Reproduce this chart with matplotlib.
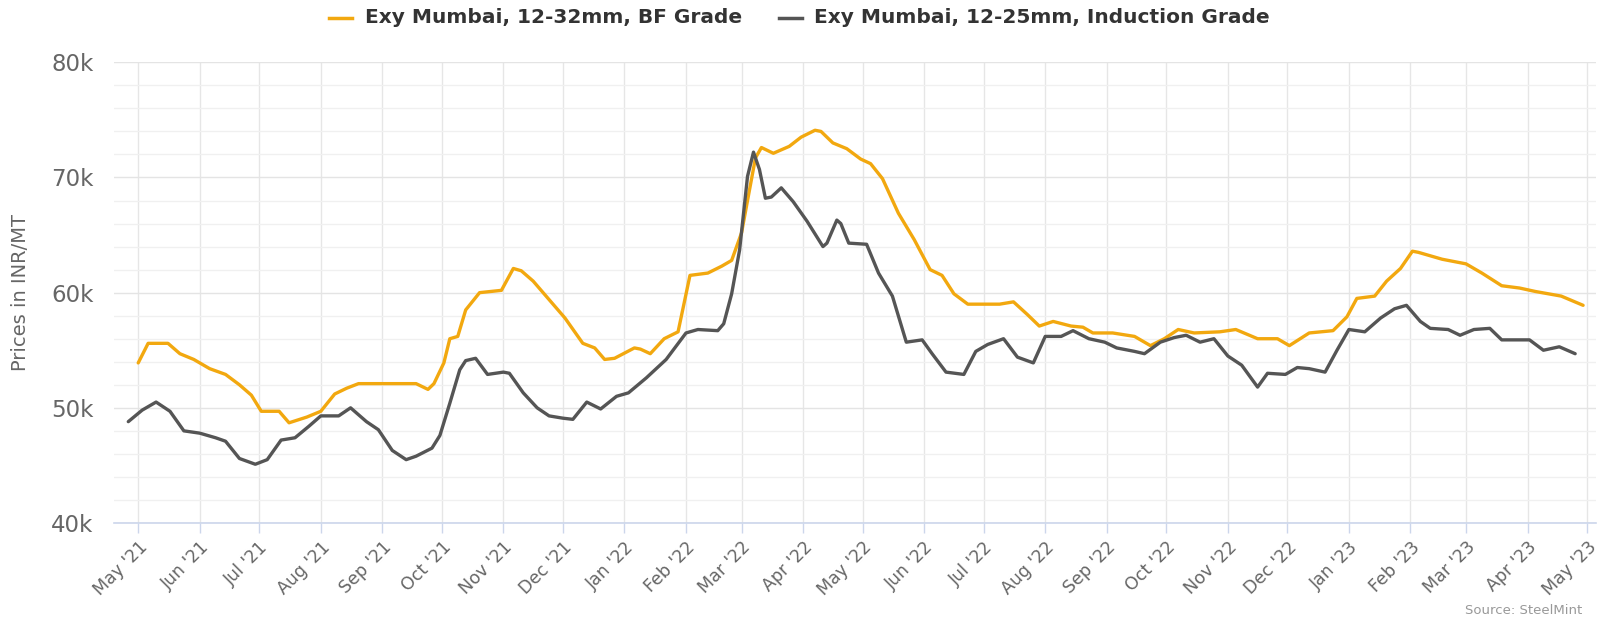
import numpy as np
import pandas as pd
import matplotlib
matplotlib.use("Agg")
import matplotlib.pyplot as plt
import matplotlib.dates as mdates
from matplotlib.lines import Line2D
from matplotlib.ticker import MultipleLocator, FuncFormatter

# ---- data (INR/MT) ----
bf_dates = [
    "2021-05-01", "2021-05-06", "2021-05-16", "2021-05-22", "2021-05-29", "2021-06-06",
    "2021-06-14", "2021-06-21", "2021-06-27", "2021-07-02", "2021-07-11", "2021-07-16",
    "2021-07-25", "2021-08-01", "2021-08-08", "2021-08-14", "2021-08-20", "2021-09-18",
    "2021-09-24", "2021-09-27", "2021-10-02", "2021-10-05", "2021-10-09", "2021-10-13",
    "2021-10-20", "2021-10-31", "2021-11-06", "2021-11-10", "2021-11-16", "2021-11-24",
    "2021-12-02", "2021-12-11", "2021-12-17", "2021-12-22", "2021-12-27", "2022-01-06",
    "2022-01-09", "2022-01-14", "2022-01-21", "2022-01-28", "2022-02-03", "2022-02-12",
    "2022-02-19", "2022-02-24", "2022-03-01", "2022-03-04", "2022-03-08", "2022-03-11",
    "2022-03-17", "2022-03-25", "2022-03-31", "2022-04-07", "2022-04-10", "2022-04-16",
    "2022-04-23", "2022-04-30", "2022-05-05", "2022-05-11", "2022-05-19", "2022-05-27",
    "2022-06-04", "2022-06-10", "2022-06-16", "2022-06-23", "2022-07-09", "2022-07-16",
    "2022-07-23", "2022-07-29", "2022-08-05", "2022-08-14", "2022-08-20", "2022-08-25",
    "2022-09-04", "2022-09-15", "2022-09-23", "2022-09-30", "2022-10-07", "2022-10-15",
    "2022-10-28", "2022-11-05", "2022-11-16", "2022-11-26", "2022-12-02", "2022-12-12",
    "2022-12-24", "2022-12-31", "2023-01-05", "2023-01-14", "2023-01-20", "2023-01-27",
    "2023-02-02", "2023-02-05", "2023-02-17", "2023-03-01", "2023-03-09", "2023-03-19",
    "2023-03-28", "2023-04-05", "2023-04-18", "2023-04-29",
]
bf_values = [
    53900, 55600, 55600, 54700, 54200, 53400,
    52900, 52000, 51100, 49700, 49700, 48700,
    49200, 49700, 51200, 51700, 52100, 52100,
    51600, 52100, 53900, 56000, 56200, 58500,
    60000, 60200, 62100, 61900, 61000, 59400,
    57800, 55600, 55200, 54200, 54300, 55200,
    55100, 54700, 56000, 56600, 61500, 61700,
    62300, 62800, 65200, 68000, 71700, 72600,
    72100, 72700, 73500, 74100, 74000, 73000,
    72500, 71600, 71200, 69900, 66900, 64600,
    62000, 61500, 59900, 59000, 59000, 59200,
    58100, 57100, 57500, 57100, 57000, 56500,
    56500, 56200, 55400, 56000, 56800, 56500,
    56600, 56800, 56000, 56000, 55400, 56500,
    56700, 57900, 59500, 59700, 61000, 62100,
    63600, 63500, 62900, 62500, 61700, 60600,
    60400, 60100, 59700, 58900,
]

ind_dates = [
    "2021-04-26", "2021-05-03", "2021-05-10", "2021-05-17", "2021-05-24", "2021-06-01",
    "2021-06-09", "2021-06-14", "2021-06-21", "2021-06-29", "2021-07-05", "2021-07-12",
    "2021-07-19", "2021-07-26", "2021-08-01", "2021-08-10", "2021-08-16", "2021-08-24",
    "2021-08-30", "2021-09-06", "2021-09-13", "2021-09-18", "2021-09-26", "2021-09-30",
    "2021-10-05", "2021-10-10", "2021-10-13", "2021-10-18", "2021-10-24", "2021-11-01",
    "2021-11-04", "2021-11-11", "2021-11-18", "2021-11-24", "2021-12-01", "2021-12-06",
    "2021-12-13", "2021-12-20", "2021-12-28", "2022-01-03", "2022-01-12", "2022-01-22",
    "2022-02-01", "2022-02-07", "2022-02-17", "2022-02-20", "2022-02-24", "2022-02-28",
    "2022-03-04", "2022-03-07", "2022-03-10", "2022-03-13", "2022-03-16", "2022-03-21",
    "2022-03-27", "2022-04-03", "2022-04-11", "2022-04-13", "2022-04-18", "2022-04-20",
    "2022-04-24", "2022-05-03", "2022-05-09", "2022-05-16", "2022-05-23", "2022-05-31",
    "2022-06-05", "2022-06-12", "2022-06-21", "2022-06-27", "2022-07-03", "2022-07-11",
    "2022-07-18", "2022-07-26", "2022-08-01", "2022-08-09", "2022-08-15", "2022-08-23",
    "2022-08-31", "2022-09-06", "2022-09-15", "2022-09-20", "2022-09-28", "2022-10-05",
    "2022-10-11", "2022-10-18", "2022-10-25", "2022-11-01", "2022-11-08", "2022-11-16",
    "2022-11-21", "2022-11-30", "2022-12-06", "2022-12-12", "2022-12-20", "2022-12-26",
    "2023-01-01", "2023-01-09", "2023-01-17", "2023-01-24", "2023-01-30", "2023-02-06",
    "2023-02-11", "2023-02-20", "2023-02-26", "2023-03-05", "2023-03-13", "2023-03-19",
    "2023-04-02", "2023-04-09", "2023-04-17", "2023-04-25",
]
ind_values = [
    48800, 49800, 50500, 49700, 48000, 47800,
    47400, 47100, 45600, 45100, 45500, 47200,
    47400, 48400, 49300, 49300, 50000, 48800,
    48100, 46300, 45500, 45800, 46500, 47600,
    50400, 53300, 54100, 54300, 52900, 53100,
    53000, 51300, 50000, 49300, 49100, 49000,
    50500, 49900, 51000, 51300, 52600, 54200,
    56500, 56800, 56700, 57300, 59900, 63700,
    70100, 72200, 70700, 68200, 68300, 69100,
    67900, 66200, 64000, 64300, 66300, 66000,
    64300, 64200, 61700, 59700, 55700, 55900,
    54700, 53100, 52900, 54900, 55500, 56000,
    54400, 53900, 56200, 56200, 56700, 56000,
    55700, 55200, 54900, 54700, 55700, 56100,
    56300, 55700, 56000, 54500, 53700, 51800,
    53000, 52900, 53500, 53400, 53100, 55000,
    56800, 56600, 57800, 58600, 58900, 57500,
    56900, 56800, 56300, 56800, 56900, 55900,
    55900, 55000, 55300, 54700,
]

series_names = ["Exy Mumbai, 12-32mm, BF Grade", "Exy Mumbai, 12-25mm, Induction Grade"]
series_colors = ["#f2a80f", "#555555"]

TXT = "#666666"

fig = plt.figure(figsize=(16.02, 6.22), dpi=100)
ax = fig.add_axes([114.4 / 1602, 1 - 523 / 622, (1596 - 114.4) / 1602, (523 - 62.3) / 622])

ax.plot(pd.to_datetime(bf_dates), bf_values, color=series_colors[0], lw=2.4,
        solid_joinstyle="round", solid_capstyle="round", zorder=3)
ax.plot(pd.to_datetime(ind_dates), ind_values, color=series_colors[1], lw=2.4,
        solid_joinstyle="round", solid_capstyle="round", zorder=3)

ax.set_xlim(pd.Timestamp("2021-04-19"), pd.Timestamp("2023-05-05 12:00"))
ax.set_ylim(40000, 80000)

ax.yaxis.set_major_locator(MultipleLocator(10000))
ax.yaxis.set_minor_locator(MultipleLocator(2000))
ax.yaxis.set_major_formatter(FuncFormatter(lambda v, p: f"{v / 1000:.0f}k"))
ax.xaxis.set_major_locator(mdates.MonthLocator())
ax.xaxis.set_major_formatter(mdates.DateFormatter("%b '%y"))

ax.grid(axis="y", which="major", color="#e4e4e4", lw=1.0, zorder=0)
ax.grid(axis="y", which="minor", color="#f0f0f0", lw=1.0, zorder=0)
ax.grid(axis="x", which="major", color="#e6e6e6", lw=1.0, zorder=0)
ax.set_axisbelow(True)

for s in ["top", "right", "left"]:
    ax.spines[s].set_visible(False)
ax.spines["bottom"].set_color("#ccd6eb")
ax.spines["bottom"].set_linewidth(1.2)

ax.tick_params(axis="y", which="both", length=0, pad=15, labelsize=16.5, labelcolor=TXT)
ax.tick_params(axis="x", which="major", length=7, width=1, color="#ccd6eb",
               pad=4, labelsize=12.5, labelcolor=TXT)
for lab in ax.get_xticklabels():
    lab.set_rotation(45)
    lab.set_ha("right")
    lab.set_va("top")
    lab.set_rotation_mode("anchor")

ax.set_ylabel("Prices in INR/MT", fontsize=14, color=TXT)
ax.yaxis.set_label_coords(-0.0570, 0.5)

# legend drawn at the top centre
leg_y = 1 - 17.5 / 622
for (x0, x1, tx), name, col in zip([(329, 352, 365), (779, 802, 814)], series_names, series_colors):
    fig.add_artist(Line2D([x0 / 1602, x1 / 1602], [leg_y, leg_y], color=col, lw=2.5,
                          transform=fig.transFigure))
    fig.text(tx / 1602, leg_y, name, fontsize=14.5, fontweight="bold", color="#333333",
             ha="left", va="center")

fig.text(1582 / 1602, 1 - 610 / 622, "Source: SteelMint", fontsize=9.5, color="#999999",
         ha="right", va="center")

fig.savefig("out.png", dpi=100)
